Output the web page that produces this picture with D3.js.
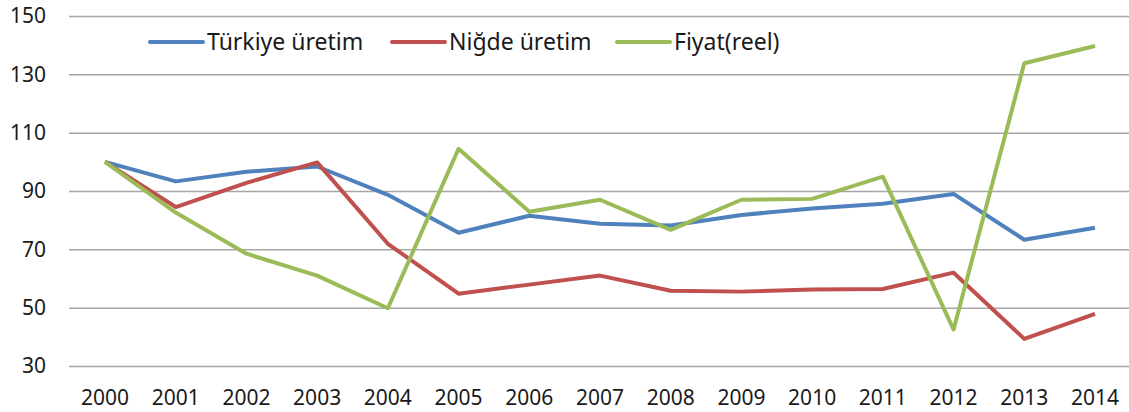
<!DOCTYPE html>
<html>
<head>
<meta charset="utf-8">
<script src="https://cdn.jsdelivr.net/npm/d3@7"></script>
<style>
    body { margin: 0; background: #fff; }
    svg text { font-family: "Noto Sans", "Open Sans", sans-serif; fill: #1a1a1a; }
</style>
</head>
<body>
<div id="chart"></div>
<script>
    const years = ['2000', '2001', '2002', '2003', '2004', '2005', '2006', '2007', '2008', '2009', '2010', '2011', '2012', '2013', '2014'];
    const turkiye = [100, 93.3, 96.6, 98.4, 88.7, 75.7, 81.5, 78.8, 78.2, 81.8, 84.0, 85.6, 89.0, 73.3, 77.4];
    const nigde = [100, 84.5, 92.8, 99.8, 71.9, 54.8, 57.9, 61.0, 55.8, 55.5, 56.2, 56.4, 62.0, 39.3, 47.9];
    const fiyat = [100, 82.6, 68.5, 61.0, 49.8, 104.5, 82.9, 87.0, 76.7, 87.0, 87.3, 94.9, 42.5, 133.8, 139.7];
    const yTicks = [30, 50, 70, 90, 110, 130, 150];
    const seriesNames = ['Türkiye üretim', 'Niğde üretim', 'Fiyat(reel)'];
    const colors = ['#4f81bd', '#c0504d', '#9bbb59'];

    const width = 1129, height = 412;
    const margin = { top: 16, right: 0, bottom: 46, left: 69 };
    const innerW = width - margin.left - margin.right;
    const innerH = height - margin.top - margin.bottom;

    const svg = d3.select('#chart')
        .append('svg')
        .attr('width', width)
        .attr('height', height)
        .append('g')
        .attr('transform', `translate(${margin.left}, ${margin.top})`);

    const x = d3.scalePoint().domain(years).range([36, innerW - 34]);
    const y = d3.scaleLinear().domain([30, 150]).range([innerH, 0]);

    // gridlines
    svg.append('g')
        .attr('class', 'grid')
        .call(d3.axisLeft(y).tickValues(yTicks).tickSize(-innerW).tickFormat(''))
        .call(g => g.select('.domain').remove())
        .call(g => g.selectAll('line').attr('stroke', '#a6a6a6').attr('stroke-width', 1.5));

    // y labels
    svg.append('g')
        .selectAll('text')
        .data(yTicks)
        .enter()
        .append('text')
        .attr('x', -23)
        .attr('y', d => y(d))
        .attr('dy', '0.35em')
        .attr('text-anchor', 'end')
        .style('font-size', '21px')
        .text(d => d);

    // x labels
    svg.append('g')
        .selectAll('text')
        .data(years)
        .enter()
        .append('text')
        .attr('x', d => x(d))
        .attr('y', innerH + 39)
        .attr('text-anchor', 'middle')
        .style('font-size', '21px')
        .text(d => d);

    const line = d3.line()
        .x((d, i) => x(years[i]))
        .y(d => y(d));

    [turkiye, nigde, fiyat].forEach((s, i) => {
        svg.append('path')
            .datum(s)
            .attr('fill', 'none')
            .attr('stroke', colors[i])
            .attr('stroke-width', 4)
            .attr('stroke-linejoin', 'round')
            .attr('d', line);
    });

    // legend
    const legendX = [150, 392, 617];
    const legend = d3.select('svg')
        .append('g')
        .selectAll('g')
        .data(seriesNames)
        .enter()
        .append('g')
        .attr('transform', (d, i) => `translate(${legendX[i]}, 42)`);

    legend.append('line')
        .attr('x1', 0)
        .attr('x2', 53)
        .attr('stroke', (d, i) => colors[i])
        .attr('stroke-width', 4)
        .attr('stroke-linecap', 'round');

    legend.append('text')
        .attr('x', 57)
        .attr('dy', '0.35em')
        .style('font-size', '23px')
        .text(d => d);
</script>
</body>
</html>
